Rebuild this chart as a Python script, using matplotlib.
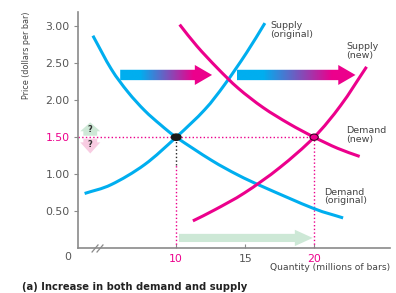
import numpy as np
import matplotlib
matplotlib.use("Agg")
import matplotlib.pyplot as plt
from matplotlib.patches import FancyArrow, Ellipse, PathPatch
from matplotlib.path import Path
from matplotlib.colors import LinearSegmentedColormap

BLUE = "#00AEEF"
PINK = "#EC008C"
GRAY = "#555555"

# curves (quantity in millions of bars, price in $ per bar)
demand_orig_q = [3.96, 5.29, 6.50, 7.71, 8.85, 10.0, 12.54, 14.47, 16.3, 19.93, 22.1]
demand_orig_p = [2.87, 2.42, 2.11, 1.86, 1.67, 1.50, 1.19, 0.99, 0.83, 0.54, 0.41]

supply_orig_q = [3.36, 5.29, 7.71, 10.0, 12.06, 13.51, 15.1, 16.43]
supply_orig_p = [0.74, 0.86, 1.13, 1.50, 1.87, 2.21, 2.64, 3.04]

demand_new_q = [10.25, 11.5, 13.0, 14.5, 16.3, 18.2, 20.0, 21.7, 23.3]
demand_new_p = [3.02, 2.73, 2.43, 2.16, 1.90, 1.68, 1.50, 1.35, 1.24]

supply_new_q = [11.21, 12.8, 14.97, 17.51, 20.0, 21.93, 23.8]
supply_new_p = [0.37, 0.52, 0.75, 1.09, 1.50, 1.93, 2.45]

eq_orig = (10, 1.5)
eq_new = (20, 1.5)

y_ticks = [0.5, 1.0, 1.5, 2.0, 2.5, 3.0]
y_labels = ["0.50", "1.00", "1.50", "2.00", "2.50", "3.00"]
x_ticks = [10, 15, 20]
x_labels = ["10", "15", "20"]


def smooth_path(qs, ps):
    # Catmull-Rom through the read points, drawn as cubic bezier segments
    pts = np.column_stack([qs, ps])
    ext = np.vstack([2 * pts[0] - pts[1], pts, 2 * pts[-1] - pts[-2]])
    verts = [pts[0]]
    codes = [Path.MOVETO]
    for i in range(1, len(ext) - 2):
        p0, p1, p2, p3 = ext[i - 1], ext[i], ext[i + 1], ext[i + 2]
        verts += [p1 + (p2 - p0) / 6, p2 - (p3 - p1) / 6, p2]
        codes += [Path.CURVE4] * 3
    return Path(verts, codes)


fig = plt.figure(figsize=(3.96, 2.93), dpi=100)
ax = fig.add_axes([78 / 396, 1 - 248.3 / 293, (390 - 78) / 396, (248.3 - 12) / 293])

for s in ["top", "right"]:
    ax.spines[s].set_visible(False)
for s in ["left", "bottom"]:
    ax.spines[s].set_color("#8a8a8a")
    ax.spines[s].set_linewidth(1.2)

ax.set_yticks(y_ticks)
ax.set_yticklabels(y_labels)
ax.set_xticks(x_ticks)
ax.set_xticklabels(x_labels)
ax.tick_params(axis="y", direction="out", length=3, width=0.8, color="#8a8a8a",
               labelsize=7.8, labelcolor=GRAY, pad=3)
ax.tick_params(axis="x", direction="in", length=3, width=0.8, color="#8a8a8a",
               labelsize=7.8, labelcolor=GRAY, pad=4)
ax.get_yticklabels()[2].set_color(PINK)
ax.get_xticklabels()[0].set_color(PINK)
ax.get_xticklabels()[2].set_color(PINK)

ax.text(-0.032, -0.037, "0", transform=ax.transAxes, ha="center", va="center",
        fontsize=7.8, color=GRAY)

# axis break
for dq in [0, 0.36]:
    ax.plot([3.9 + dq, 4.33 + dq], [-0.05, 0.045], color="#8a8a8a", lw=0.9,
            clip_on=False, zorder=5)

# guide lines
ax.plot([2.88, eq_new[0]], [1.5, 1.5], color=PINK, ls=":", lw=1.0, zorder=2)
ax.plot([10, 10], [0, 1.13], color=PINK, ls=":", lw=1.0, zorder=2)
ax.plot([10, 10], [1.13, 1.5], color="#222222", ls=":", lw=1.0, zorder=2)
ax.plot([20, 20], [0, 1.5], color=PINK, ls=":", lw=1.0, zorder=2)

# curves
for qs, ps, c in [(demand_orig_q, demand_orig_p, BLUE),
                  (supply_orig_q, supply_orig_p, BLUE),
                  (demand_new_q, demand_new_p, PINK),
                  (supply_new_q, supply_new_p, PINK)]:
    ax.add_patch(PathPatch(smooth_path(qs, ps), fill=False, edgecolor=c,
                           lw=2.2, capstyle="butt", zorder=3))

# equilibrium points
ax.add_patch(Ellipse(eq_orig, 0.7, 0.085, color="#1a1a1a", zorder=6))
ax.add_patch(Ellipse(eq_new, 0.6, 0.085, facecolor=PINK, edgecolor="#3a0020", lw=0.8, zorder=6))

# gradient arrows (shift of curves)
cmap = LinearSegmentedColormap.from_list(
    "bp", [(0, BLUE), (0.22, BLUE), (0.8, PINK), (1, PINK)])
grad = np.linspace(0, 1, 256).reshape(1, -1)
for x0, x1 in [(5.94, 12.6), (14.4, 23.0)]:
    arr = FancyArrow(x0, 2.34, x1 - x0, 0, width=0.14, head_width=0.27,
                     head_length=1.25, length_includes_head=True,
                     facecolor="none", edgecolor="none", zorder=4)
    ax.add_patch(arr)
    im = ax.imshow(grad, cmap=cmap, aspect="auto", extent=[x0, x1, 2.2, 2.48],
                   zorder=4, interpolation="bilinear")
    im.set_clip_path(arr)

# quantity increase arrow
ax.add_patch(FancyArrow(10.2, 0.14, 9.7, 0, width=0.11, head_width=0.22,
                        head_length=1.3, length_includes_head=True,
                        color="#CDE8D6", lw=0, zorder=2))

# price: up or down?
ax.add_patch(FancyArrow(3.77, 1.52, 0, 0.18, width=1.0, head_width=1.45,
                        head_length=0.12, length_includes_head=True,
                        color="#CDE8D6", lw=0, zorder=2))
ax.add_patch(FancyArrow(3.77, 1.48, 0, -0.2, width=1.0, head_width=1.45,
                        head_length=0.15, length_includes_head=True,
                        color="#F8CCE2", lw=0, zorder=2))
ax.text(3.77, 1.6, "?", ha="center", va="center", fontsize=6, fontweight="bold",
        color="#333333", zorder=5)
ax.text(3.77, 1.4, "?", ha="center", va="center", fontsize=6, fontweight="bold",
        color="#333333", zorder=5)

# curve labels
lab = dict(fontsize=6.8, color="#444444", va="top", ha="left", linespacing=0.95)
ax.text(16.84, 3.07, "Supply\n(original)", **lab)
ax.text(22.35, 2.78, "Supply\n(new)", **lab)
ax.text(22.35, 1.65, "Demand\n(new)", **lab)
ax.text(20.72, 0.82, "Demand\n(original)", **lab)

ax.set_xlim(2.88, 25.5)
ax.set_ylim(0, 3.19)

fig.text(390 / 396, 1 - 268 / 293, "Quantity (millions of bars)", ha="right",
         va="center", fontsize=6.6, color="#444444")
fig.text(27 / 396, 1 - 55 / 293, "Price (dollars per bar)", ha="center",
         va="center", rotation=90, fontsize=5.8, color="#444444")
fig.text(22 / 396, 1 - 286.5 / 293, "(a) Increase in both demand and supply",
         ha="left", va="center", fontsize=7.2, fontweight="bold", color="#222222")

fig.savefig("out.png", dpi=100)
